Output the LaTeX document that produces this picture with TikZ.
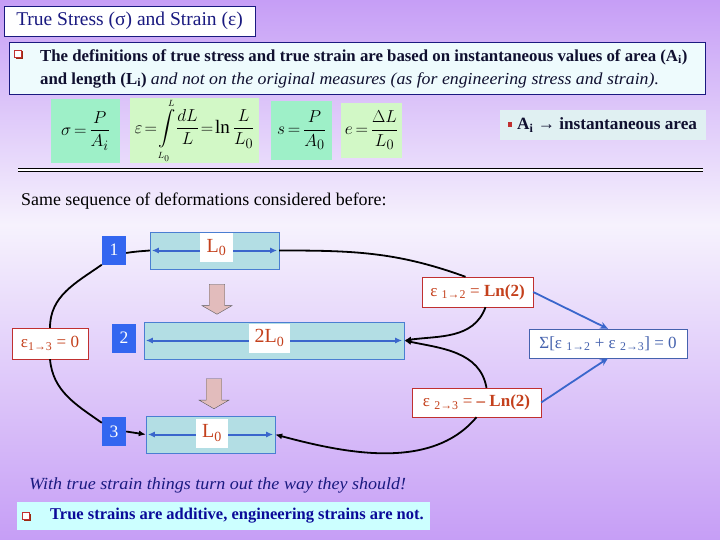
\documentclass[tikz,border=0pt]{standalone}
\usepackage{amsmath}
\usepackage{fontspec}
\setmainfont{Liberation Serif}
\newfontfamily\wideserif{Liberation Serif}[FakeStretch=1.06]
\usepackage{tikz}
\usetikzlibrary{arrows.meta,shapes.arrows,calc}
\definecolor{lilac}{HTML}{C69EF6}
\definecolor{paleviolet}{HTML}{F6F2FD}
\definecolor{navy}{HTML}{1A1A80}
\definecolor{ink}{HTML}{101030}
\definecolor{deepblue}{HTML}{0A0A99}
\definecolor{icecyan}{HTML}{EEFBFD}
\definecolor{palecyan}{HTML}{CCFFFF}
\definecolor{notegrey}{HTML}{E0F0F2}
\definecolor{mint}{HTML}{9EF0C8}
\definecolor{palegreen}{HTML}{D2F8C6}
\definecolor{barblue}{HTML}{B3DEE4}
\definecolor{edgeblue}{HTML}{4A7ED2}
\definecolor{arrowblue}{HTML}{3A66CC}
\definecolor{tagblue}{HTML}{3366F0}
\definecolor{rust}{HTML}{C4401C}
\definecolor{boxred}{HTML}{C03030}
\definecolor{shadowred}{HTML}{9A2A10}
\definecolor{sumblue}{HTML}{4562AE}
\definecolor{dustypink}{HTML}{E2BCBC}
\tikzset{
  tag/.style={fill=tagblue,text=white,minimum width=24pt,minimum height=29pt,inner sep=0pt,font=\fontsize{17.5}{17}\selectfont},
  bar/.style={fill=barblue,draw=edgeblue,minimum height=37pt,inner sep=0pt},
  barlabel/.style={fill=white,text=rust,minimum height=29pt,inner sep=0pt,font=\fontsize{20}{20}\selectfont},
  measure/.style={draw=arrowblue,line width=2pt,{Latex[length=7pt,width=6pt]}-{Latex[length=7pt,width=6pt]}},
  strainbox/.style={draw=boxred,fill=white,text=rust,minimum height=30pt,inner sep=0pt,font=\fontsize{17}{17}\selectfont},
  blockarrow/.style={single arrow,rotate=-90,draw=black!65,fill=dustypink,minimum height=30pt,minimum width=30pt,inner sep=7.5pt,single arrow tip angle=120},
  link/.style={line width=1.8pt},
  flow/.style={line width=1.8pt,-{Latex[length=7pt,width=6pt]}},
  sumflow/.style={draw=arrowblue,line width=1.8pt,-{Stealth[length=8pt,width=7pt]}},
  formula/.style={inner sep=0pt,font=\fontsize{19}{22}\selectfont}
}
\begin{document}
\begin{tikzpicture}[x=1pt,y=1pt]
  \shade[top color=lilac,bottom color=paleviolet] (0,0) rectangle (720,-225);
  \shade[top color=paleviolet,bottom color=lilac] (0,-225) rectangle (720,-540);
  \useasboundingbox (0,0) rectangle (720,-540);

  \node[draw=navy,fill=white,text=navy,minimum width=251pt,minimum height=30pt,inner sep=0pt,font=\fontsize{19.5}{20}\selectfont] (title) at (129.5,-21) {True Stress (σ) and Strain (ε)};

  \node[draw=navy,fill=icecyan,minimum width=696pt,minimum height=52pt] (defs) at (357,-68) {};
  \fill[shadowred] (15.5,-51.5) rectangle (23,-59);
  \draw[boxred,fill=white] (14,-50) rectangle (21.5,-57.5);
  \node[anchor=west,align=left,text=ink,inner sep=0pt,font=\fontsize{16.8}{23}\selectfont] (deftext) at (40,-68.5)
    {\textbf{The definitions of true stress and true strain are based on instantaneous values of area (A\textsubscript{i})}\\
     \textbf{and length (L\textsubscript{i})} {\wideserif\itshape and not on the original measures (as for engineering stress and strain).}};

  \node[formula,fill=mint,minimum width=69pt,minimum height=64pt] (fsig) at (85.5,-131) {$\thickmuskip=3mu\displaystyle \sigma=\frac{P}{A_i}$};
  \node[formula,fill=palegreen,minimum width=129pt,minimum height=65pt] (feps) at (194.5,-130.5) {$\thickmuskip=2mu\displaystyle \varepsilon=\int\limits_{\scriptscriptstyle L_0}^{\scriptscriptstyle L}\!\frac{dL}{L}=\ln\frac{L}{L_0}$};
  \node[formula,fill=mint,minimum width=61pt,minimum height=59pt] (fs) at (301.5,-130.5) {$\thickmuskip=3mu\displaystyle s=\frac{P}{A_0}$};
  \node[formula,fill=palegreen,minimum width=61pt,minimum height=55pt] (fe) at (371.5,-130.5) {$\thickmuskip=3mu\displaystyle e=\frac{\Delta L}{L_0}$};

  \node[fill=notegrey,minimum width=206pt,minimum height=30pt] (note) at (603,-125) {};
  \fill[boxred] (508,-122) rectangle (512,-127.5);
  \node[anchor=west,inner sep=0pt,text=ink,font=\bfseries\fontsize{17.2}{18}\selectfont] (notetext) at (517,-125) {A\textsubscript{i} → instantaneous area};

  \draw[double,double distance=2pt,line width=0.9pt] (18,-170) -- (703,-170);

  \node[anchor=west,inner sep=0pt,font=\fontsize{17.9}{20}\selectfont] (same) at (21,-201) {Same sequence of deformations considered before:};

  \node[bar,minimum width=129pt] (b1) at (214.5,-250.5) {};
  \node[bar,minimum width=260pt] (b2) at (274,-340.5) {};
  \node[bar,minimum width=129pt] (b3) at (210.5,-434.5) {};
  \foreach \b in {b1,b2,b3}
    \draw[measure] ([xshift=2pt]\b.west) -- ([xshift=-2pt]\b.east);
  \node[barlabel,minimum width=33pt] (lab1) at (216.5,-247.5) {L\textsubscript{0}};
  \node[barlabel,minimum width=41pt] (lab2) at (269.5,-338) {2L\textsubscript{0}};
  \node[barlabel,minimum width=32pt] (lab3) at (212,-433) {L\textsubscript{0}};

  \node[tag] (n1) at (114,-250) {1};
  \node[tag] (n2) at (124,-338) {2};
  \node[tag] (n3) at (114,-431.5) {3};

  \node[blockarrow] (down1) at (217,-297) {};
  \node[blockarrow] (down2) at (214,-391.5) {};

  \node[strainbox,minimum width=76pt,minimum height=31pt] (e13) at (50,-343.5) {ε\textsubscript{1→3} = 0};
  \node[strainbox,minimum width=111pt] (e12) at (477.5,-292) {ε \textsubscript{1→2} = \textbf{Ln(2)}};
  \node[strainbox,minimum width=129pt,minimum height=29pt] (e23) at (476.5,-402.5) {ε \textsubscript{2→3} = \textbf{– Ln(2)}};
  \node[strainbox,draw=sumblue,text=sumblue,minimum width=158pt,minimum height=29pt] (sum) at (608,-343.5) {Σ[ε \textsubscript{1→2} + ε \textsubscript{2→3}] = 0};

  \draw[link] ([yshift=-3pt]n1.east) to[out=10,in=185] (b1.west);
  \draw[link] (b1.east) to[out=0,in=160] ([xshift=-12pt]e12.north);
  \draw[flow] ([xshift=8pt]e12.south) to[out=-110,in=8] (b2.east);
  \draw[flow] ([xshift=10pt]e23.north) to[out=100,in=-12] (b2.east);
  \draw[flow] (e23.south) to[out=-130,in=-15,looseness=0.9] (b3.east);
  \draw[link] (n1.south west) to[out=215,in=90] (e13.north);
  \draw[link] (e13.south) to[out=-85,in=145] ([yshift=-6pt]n3.north west);
  \draw[flow] (n3.east) -- (b3.west);
  \draw[sumflow] (e12.east) -- (sum.north);
  \draw[sumflow] (e23.east) -- (sum.south);

  \node[anchor=west,inner sep=0pt,text=navy,font=\wideserif\itshape\fontsize{17}{20}\selectfont] (moral) at (29,-485) {With true strain things turn out the way they should!};
  \node[fill=palecyan,minimum width=413pt,minimum height=28pt] (final) at (223.5,-516) {};
  \fill[shadowred] (23.5,-513.5) rectangle (31,-521);
  \draw[boxred,fill=white] (22,-512) rectangle (29.5,-519.5);
  \node[anchor=west,inner sep=0pt,text=deepblue,font=\bfseries\fontsize{16.5}{18}\selectfont] (finaltext) at (50,-516) {True strains are additive, engineering strains are not.};
\end{tikzpicture}
\end{document}
